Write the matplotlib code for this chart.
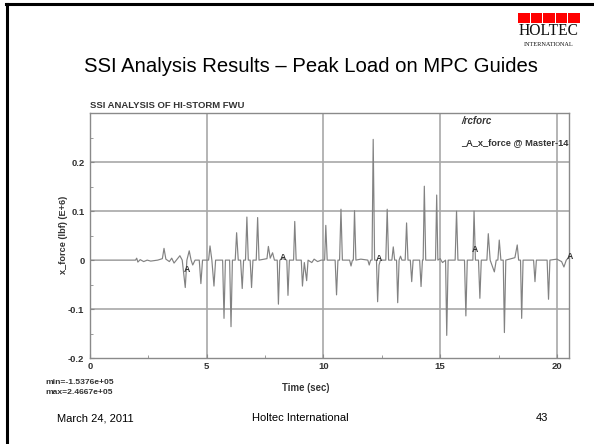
import matplotlib
matplotlib.use("Agg")
import matplotlib.pyplot as plt
from matplotlib.patches import Rectangle
from matplotlib.lines import Line2D
from matplotlib.ticker import MultipleLocator

# ---- data (time in s, force in lbf E+6) ----
time_s = [0.0, 1.95, 2.0, 2.05, 2.15, 2.3, 2.45, 2.6, 2.9, 3.1, 3.17, 3.25, 3.4, 3.5, 3.6, 3.7,
          3.85, 3.95, 4.08, 4.15, 4.25, 4.33, 4.4, 4.5, 4.68, 4.75, 4.82, 5.08, 5.14, 5.22,
          5.31, 5.38, 5.68, 5.74, 5.8, 5.98, 6.04, 6.1, 6.22, 6.28, 6.35, 6.45, 6.52, 6.58,
          6.66, 6.72, 6.78, 6.86, 6.92, 6.98, 7.12, 7.18, 7.24, 7.58, 7.64, 7.72, 7.82, 7.9,
          8.02, 8.07, 8.13, 8.25, 8.43, 8.48, 8.54, 8.72, 8.77, 8.83, 9.05, 9.10, 9.18, 9.28,
          9.34, 9.5, 9.6, 9.75, 9.9, 10.05, 10.1, 10.16, 10.5, 10.56, 10.62, 10.69, 10.75,
          10.81, 11.12, 11.18, 11.24, 11.28, 11.33, 11.39, 11.6, 11.9, 11.96, 12.02, 12.08,
          12.13, 12.19, 12.27, 12.32, 12.38, 12.44, 12.67, 12.73, 12.79, 12.93, 12.99, 13.05,
          13.13, 13.18, 13.24, 13.3, 13.36, 13.5, 13.56, 13.62, 13.72, 13.78, 13.84, 14.12,
          14.18, 14.24, 14.27, 14.32, 14.38, 14.8, 14.85, 14.9, 15.0, 15.1, 15.23, 15.28,
          15.34, 15.64, 15.70, 15.76, 16.04, 16.1, 16.16, 16.4, 16.45, 16.51, 16.64, 16.7,
          16.76, 17.0, 17.06, 17.14, 17.32, 17.4, 17.47, 17.53, 17.6, 17.7, 17.75, 17.81,
          18.2, 18.3, 18.36, 18.44, 18.49, 18.55, 19.0, 19.06, 19.12, 19.58, 19.64, 19.7,
          20.0, 20.2, 20.3, 20.4, 20.5]
x_force = [0.0, 0.0, 0.004, -0.004, 0.001, -0.003, 0.0, -0.002, 0.0, 0.003, 0.024, 0.002, -0.003, 0.004, -0.006, 0.0,
           0.009, 0.0, -0.056, 0.0, 0.019, 0.0, -0.01, 0.0, 0.0, -0.048, 0.0, 0.0, 0.029, 0.0,
           -0.053, 0.0, 0.0, -0.119, 0.0, 0.0, -0.136, 0.0, 0.0, 0.056, 0.0, 0.0, -0.058, 0.0,
           0.0, 0.088, 0.0, 0.0, -0.056, 0.0, 0.0, 0.087, 0.0, 0.003, 0.028, 0.004, 0.015, 0.0,
           0.0, -0.09, 0.0, 0.003, 0.0, -0.072, 0.0, 0.0, 0.079, 0.0, 0.0, -0.053, -0.005, -0.042,
           0.0, -0.005, 0.002, -0.003, 0.0, 0.0, 0.071, 0.0, 0.0, -0.071, 0.0, 0.0, 0.104,
           0.0, 0.0, -0.012, 0.0, 0.0, 0.101, 0.0, 0.002, 0.0, -0.01, 0.0, 0.0,
           0.2467, 0.0, 0.0, -0.085, -0.01, 0.0, 0.0, 0.104, 0.0, 0.0, 0.027, 0.0,
           0.0, -0.087, 0.0, 0.008, 0.0, 0.0, 0.076, 0.0, 0.0, -0.044, 0.0, 0.0,
           -0.054, 0.0, 0.0, 0.151, 0.0, 0.0, 0.133, 0.0, 0.003, -0.005, 0.0, -0.1538,
           0.0, 0.0, 0.10, 0.0, 0.0, -0.114, 0.0, 0.0, 0.10, 0.0, 0.0, -0.078,
           0.0, 0.0, 0.054, 0.0, -0.024, 0.0, 0.0, 0.041, 0.0, 0.0, -0.148, 0.0,
           0.005, 0.031, 0.0, 0.0, -0.119, 0.0, 0.0, -0.044, 0.0, 0.0, -0.08, 0.0,
           0.002, -0.003, -0.014, 0.0, 0.005]

marker_t = [4.14, 8.25, 12.37, 16.49, 20.55]
marker_v = [-0.02, 0.006, 0.003, 0.022, 0.007]

x_ticks = [0, 5, 10, 15, 20]
x_tick_labels = ["0", "5", "10", "15", "20"]
y_ticks = [-0.2, -0.1, 0.0, 0.1, 0.2]
y_tick_labels = ["-0.2", "-0.1", "0", "0.1", "0.2"]

W, H = 594, 444
fig = plt.figure(figsize=(W / 100, H / 100), dpi=100)
fig.patch.set_facecolor("white")

def fx(px):
    return px / W

def fy(py):
    return 1 - py / H

# slide frame (left and top)
fig.add_artist(Line2D([fx(7), fx(7)], [fy(4), fy(444)], color="black", lw=2.2))
fig.add_artist(Line2D([fx(6), fx(592)], [fy(4), fy(4)], color="black", lw=2.2))

# logo
bx0, bw, gap = 518, 11.6, 1.0
for i in range(5):
    fig.add_artist(Rectangle((fx(bx0 + i * (bw + gap)), fy(23)), bw / W, 10 / H,
                             transform=fig.transFigure, color="#ff0000", lw=0))
fig.text(fx(549), fy(31), "HOLTEC", family="Liberation Serif", fontsize=11.2,
         ha="center", va="center", color="#111111")
fig.text(fx(549), fy(44.5), "INTERNATIONAL", family="Liberation Serif", fontsize=4.5,
         ha="center", va="center", color="#111111")

# slide title
fig.text(fx(311), fy(66), "SSI Analysis Results \u2013 Peak Load on MPC Guides",
         family="Liberation Sans", fontsize=14.6, ha="center", va="center", color="black")

# footer
fig.text(fx(57), fy(418), "March 24, 2011", family="Liberation Sans", fontsize=8,
         ha="left", va="center", color="black")
fig.text(fx(300), fy(418), "Holtec International", family="Liberation Sans", fontsize=8,
         ha="center", va="center", color="black")
fig.text(fx(542), fy(418), "43", family="Liberation Sans", fontsize=8,
         ha="center", va="center", color="black")

# chart
ax = fig.add_axes([fx(90), fy(358), (569.3 - 90) / W, (358 - 113.3) / H])
ax.plot(time_s, x_force, color="#828282", lw=0.85)
ax.set_xlim(0, 20.53)
ax.set_ylim(-0.2, 0.3)
ax.set_xticks(x_ticks)
ax.set_xticklabels(x_tick_labels)
ax.set_yticks(y_ticks)
ax.set_yticklabels(y_tick_labels)
ax.xaxis.set_minor_locator(MultipleLocator(2.5))
ax.yaxis.set_minor_locator(MultipleLocator(0.05))
for v in [5, 10, 15, 20]:
    ax.axvline(v, color="#a8a8a8", lw=1.2, zorder=0)
for v in [-0.1, 0.1, 0.2]:
    ax.axhline(v, color="#a8a8a8", lw=1.2, zorder=0)
for s in ax.spines.values():
    s.set_color("#8a8a8a")
    s.set_linewidth(1.0)
ax.tick_params(which="both", direction="in", color="#8a8a8a", labelsize=6.8,
               labelcolor="#333333")
ax.tick_params(axis="y", pad=4)
ax.tick_params(axis="x", pad=3)
ax.tick_params(which="major", length=3)
ax.tick_params(which="minor", length=2)
for lab in ax.get_xticklabels() + ax.get_yticklabels():
    lab.set_fontweight("bold")
    lab.set_family("Liberation Sans")

for t, v in zip(marker_t, marker_v):
    ax.text(t, v, "A", fontsize=6.3, fontweight="bold", family="Liberation Sans",
            color="#333333", ha="center", va="center", clip_on=False)

fig.text(fx(306), fy(388), "Time (sec)", fontsize=6.9, fontweight="bold",
         family="Liberation Sans", color="#333333", ha="center", va="center")
fig.text(fx(63), fy(235), "x_force (lbf) (E+6)", fontsize=6.6, fontweight="bold",
         family="Liberation Sans", color="#333333", ha="center", va="center", rotation=90)
fig.text(fx(90), fy(106), "SSI ANALYSIS OF HI-STORM FWU", fontsize=6.8, fontweight="bold",
         family="Liberation Sans", color="#333333", ha="left", va="center")
fig.text(fx(461), fy(121), "/rcforc", fontsize=7.0, fontweight="bold", style="italic",
         family="Liberation Sans", color="#333333", ha="left", va="center")
fig.text(fx(461), fy(143), "_A_x_force @ Master-14", fontsize=6.7, fontweight="bold",
         family="Liberation Sans", color="#333333", ha="left", va="center")
fig.text(fx(45), fy(383), "min=-1.5376e+05", fontsize=6.1, fontweight="bold",
         family="Liberation Sans", color="#333333", ha="left", va="center")
fig.text(fx(45), fy(393), "max=2.4667e+05", fontsize=6.1, fontweight="bold",
         family="Liberation Sans", color="#333333", ha="left", va="center")

fig.savefig("out.png", dpi=100, facecolor="white")
